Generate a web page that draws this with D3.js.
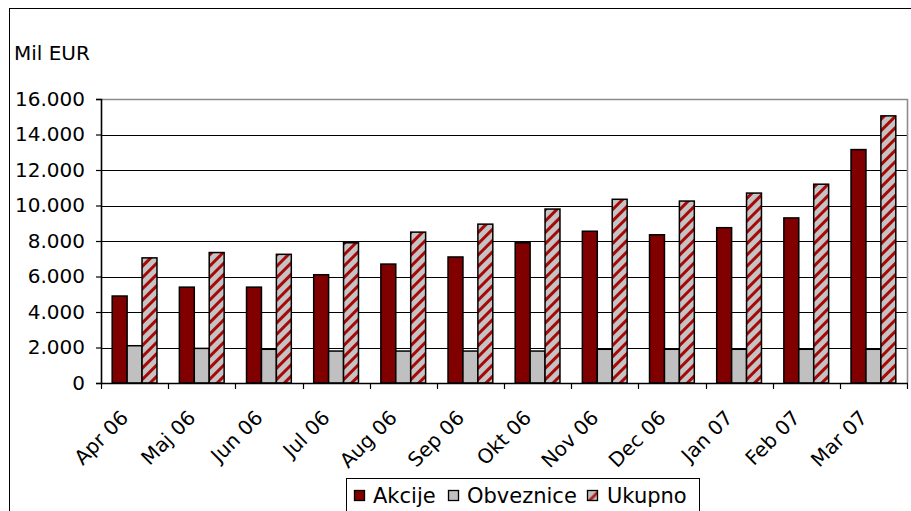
<!DOCTYPE html>
<html>
<head>
<meta charset="utf-8">
<script src="https://cdn.jsdelivr.net/npm/d3@7"></script>
<style>
  html, body { margin: 0; padding: 0; background: #fff; }
  svg { display: block; font-family: "DejaVu Sans", Verdana, sans-serif; }
</style>
</head>
<body>
<svg id="chart" width="911" height="511"></svg>
<script>
// Monthly values, millions of EUR
const months = ["Apr 06", "Maj 06", "Jun 06", "Jul 06", "Aug 06", "Sep 06",
                "Okt 06", "Nov 06", "Dec 06", "Jan 07", "Feb 07", "Mar 07"];
const akcije     = [4900, 5400, 5400, 6100, 6700, 7100, 7900, 8550, 8350, 8750, 9300, 13150];
const obveznice  = [2100, 1950, 1900, 1800, 1800, 1800, 1800, 1900, 1900, 1900, 1900, 1900];
const ukupno     = [7050, 7350, 7250, 7900, 8500, 8950, 9800, 10350, 10250, 10700, 11200, 15050];
const seriesNames = ["Akcije", "Obveznice", "Ukupno"];
const yTicks = [0, 2000, 4000, 6000, 8000, 10000, 12000, 14000, 16000];

const svg = d3.select("#chart");
const defs = svg.append("defs");

// diagonal red stripes on grey
const pat = defs.append("pattern")
  .attr("id", "stripes")
  .attr("patternUnits", "userSpaceOnUse")
  .attr("width", 8).attr("height", 8)
  .attr("patternTransform", "rotate(45)");
pat.append("rect").attr("width", 8).attr("height", 8).attr("fill", "#c4c4c4");
pat.append("rect").attr("x", 0).attr("width", 3).attr("height", 8).attr("fill", "#a80808");

// legend swatch for the striped series: grey with a single red diagonal
const patL = defs.append("pattern")
  .attr("id", "stripesL")
  .attr("patternUnits", "objectBoundingBox")
  .attr("width", 1).attr("height", 1);
patL.append("rect").attr("width", 10).attr("height", 10).attr("fill", "#c0c0c0");
patL.append("path").attr("d", "M10,0 L10,4 L4,10 L0,10 Z").attr("fill", "#b01818");

const fills = ["#800000", "#c0c0c0", "url(#stripes)"];
const seriesData = [akcije, obveznice, ukupno];

// outer frame
svg.append("rect")
  .attr("x", 9.5).attr("y", 8.5)
  .attr("width", 910).attr("height", 520)
  .attr("fill", "none").attr("stroke", "#000").attr("stroke-width", 1);

const plot = { left: 101, right: 907, top: 99, bottom: 383 };

const x = d3.scaleBand().domain(months).range([plot.left, plot.right]).padding(0);
const bw = x.bandwidth();
const xs = d3.scaleBand().domain(seriesNames)
  .range([bw * 1.5 / 9, bw - bw * 1.5 / 9]).padding(0);
const y = d3.scaleLinear().domain([0, 16000]).range([plot.bottom, plot.top]);

const fmt = v => d3.format(",")(v).replace(/,/g, ".");

// gridlines
svg.append("g").selectAll("line")
  .data(yTicks.filter(t => t > 0 && t < 16000))
  .join("line")
  .attr("x1", plot.left).attr("x2", plot.right)
  .attr("y1", d => Math.round(y(d)) + 0.5).attr("y2", d => Math.round(y(d)) + 0.5)
  .attr("stroke", "#000").attr("stroke-width", 1.2);

// plot border top / right
svg.append("path")
  .attr("d", `M${plot.left},${plot.top + 0.5}H${plot.right + 0.5}V${plot.bottom}`)
  .attr("fill", "none").attr("stroke", "#8c8c8c").attr("stroke-width", 1.6);

// bars
const groups = svg.append("g").selectAll("g")
  .data(months)
  .join("g")
  .attr("transform", d => `translate(${x(d)},0)`);

groups.selectAll("rect")
  .data((m, i) => seriesNames.map((s, k) => ({ s, k, v: seriesData[k][i] })))
  .join("rect")
  .attr("x", d => xs(d.s))
  .attr("width", xs.bandwidth())
  .attr("y", d => y(d.v))
  .attr("height", d => y(0) - y(d.v))
  .attr("fill", d => fills[d.k])
  .attr("stroke", "#000").attr("stroke-width", 1.5);

// y axis
const yAxis = svg.append("g")
  .attr("transform", `translate(${plot.left},0)`)
  .call(d3.axisLeft(y).tickValues(yTicks).tickFormat(fmt).tickSize(5).tickPadding(11));
yAxis.attr("font-size", 20).attr("font-family", "DejaVu Sans, Verdana, sans-serif");
yAxis.select(".domain").attr("stroke", "#000").attr("stroke-width", 1.6);
yAxis.selectAll(".tick line").attr("stroke", "#000").attr("stroke-width", 1.2);
yAxis.selectAll("text").attr("fill", "#000");

// x axis: ticks on band boundaries
const xAxisG = svg.append("g");
xAxisG.append("line")
  .attr("x1", plot.left).attr("x2", plot.right + 1)
  .attr("y1", plot.bottom + 0.5).attr("y2", plot.bottom + 0.5)
  .attr("stroke", "#000").attr("stroke-width", 1.6);
const bounds = months.map(m => x(m)).concat([plot.right]);
xAxisG.selectAll("line.tk")
  .data(bounds)
  .join("line").attr("class", "tk")
  .attr("x1", d => Math.round(d) + 0.5).attr("x2", d => Math.round(d) + 0.5)
  .attr("y1", plot.bottom).attr("y2", plot.bottom + 6)
  .attr("stroke", "#000").attr("stroke-width", 1.2);
xAxisG.selectAll("text")
  .data(months)
  .join("text")
  .attr("transform", d => `translate(${x(d) + bw / 2 - 5},${plot.bottom + 36}) rotate(-45)`)
  .attr("text-anchor", "end")
  .attr("font-size", 20)
  .attr("fill", "#000")
  .text(d => d);

// unit label
svg.append("text")
  .attr("x", 14).attr("y", 60)
  .attr("font-size", 20).attr("fill", "#000")
  .text("Mil EUR");

// legend
const lg = svg.append("g");
lg.append("rect")
  .attr("x", 346.5).attr("y", 478.5)
  .attr("width", 353).attr("height", 50)
  .attr("fill", "#fff").attr("stroke", "#000").attr("stroke-width", 1);
const legendPos = [
  { sq: 354, tx: 373 },
  { sq: 448, tx: 467 },
  { sq: 587, tx: 607 }
];
seriesNames.forEach((s, k) => {
  lg.append("rect")
    .attr("x", legendPos[k].sq + 0.5).attr("y", 490.5)
    .attr("width", 10).attr("height", 10)
    .attr("fill", k === 2 ? "url(#stripesL)" : fills[k])
    .attr("stroke", "#000").attr("stroke-width", 1.3);
  lg.append("text")
    .attr("x", legendPos[k].tx).attr("y", 503)
    .attr("font-size", 21).attr("fill", "#000")
    .text(s);
});
</script>
</body>
</html>
